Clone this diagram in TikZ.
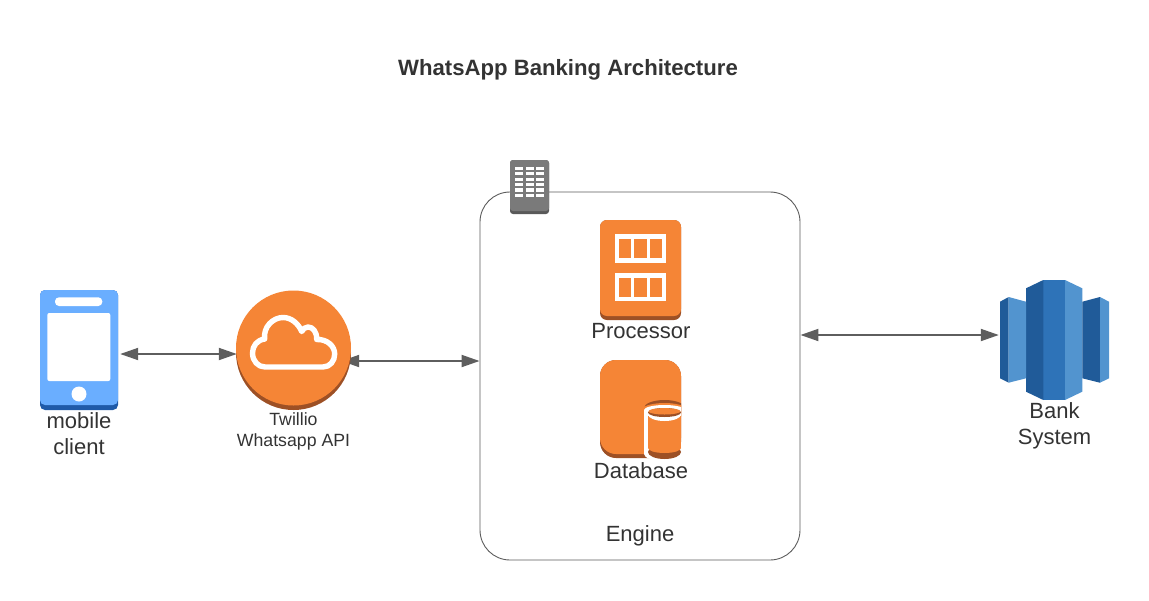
\documentclass[tikz,border=0pt]{standalone}
\usepackage{fontspec}
\setmainfont{Liberation Sans}
\usetikzlibrary{arrows.meta,backgrounds}

\definecolor{awsorange}{HTML}{F58536}
\definecolor{awsbrown}{HTML}{9D5025}
\definecolor{phoneblue}{HTML}{6AAEFF}
\definecolor{phonedark}{HTML}{1F5AA8}
\definecolor{bankmid}{HTML}{2E73B8}
\definecolor{bankdark}{HTML}{205B99}
\definecolor{banklight}{HTML}{5294CF}
\definecolor{txtgrey}{HTML}{333333}
\definecolor{arrowgrey}{HTML}{5E5E5E}

\tikzset{
  label22/.style={text=txtgrey, align=center, font=\fontsize{22}{26}\selectfont},
  label18/.style={text=txtgrey, align=center, font=\fontsize{17.7}{21}\selectfont},
  biarrow/.style={draw=arrowgrey, line width=1.9pt, {Triangle[length=18pt,width=12pt]}-{Triangle[length=18pt,width=12pt]}},
  box/.style={inner sep=0pt, rounded corners=#1},
}

\begin{document}
\begin{tikzpicture}[x=1pt,y=-1pt]
\useasboundingbox (0,0) rectangle (1149,600);

\node[text=txtgrey, font=\fontsize{22.15}{27}\selectfont\bfseries] (title) at (568,70) {WhatsApp Banking Architecture};

\node[draw=txtgrey!80, line width=0.9pt, rounded corners=30pt, minimum width=320pt, minimum height=368pt] (engine) at (640,376) {};
\node[label22] (enginelabel) at (640,536) {Engine};

% building
\node[box=3pt, fill=black!65, minimum width=39pt, minimum height=54pt] (building) at (529.5,187) {};
\fill[black!52, rounded corners=3pt] (510,160) rectangle (549,211);
\foreach \x in {515,525.6,536}
  \foreach \y in {166.7,172.1,177.5,182.9,188.3,193.7}
    \fill[white] (\x,\y) rectangle +(8.3,3.3);

% phone
\node[box=5pt, fill=phonedark, minimum width=78pt, minimum height=120pt] (mobile) at (79,350) {};
\fill[phoneblue, rounded corners=5pt] (40,290) rectangle (118,405);
\fill[white, rounded corners=2pt] (47.3,313) rectangle (110.3,381);
\fill[white, rounded corners=4pt] (55,297.3) rectangle (102.3,306);
\fill[white] (79,394) circle (7.5);
\node[label22] (mobilelabel) at (79,433.5) {mobile\\client};

% twilio
\fill[awsbrown] (293.5,352.5) circle (57.5);
\node[circle, fill=awsorange, inner sep=0pt, minimum size=115pt] (twilio) at (293.5,348) {};
\draw[white, line width=5.4pt, line join=round] (265,367) -- (323,367)
  .. controls (330,367) and (334.7,361) .. (334.7,354)
  .. controls (334.7,346) and (327,339) .. (316.7,339.5)
  .. controls (317,332) and (313,327) .. (308,327)
  .. controls (305,327) and (303,329) .. (301.7,331.5)
  .. controls (298,323) and (291,317.5) .. (283,317.5)
  .. controls (273,317.5) and (263,327) .. (264.7,339)
  .. controls (257,340) and (252.5,346) .. (252.5,353)
  .. controls (252.5,361) and (258,367) .. (265,367) -- cycle;
\node[label18] (twiliolabel) at (293.5,431.5) {Twillio\\Whatsapp API};

% processor
\node[box=7pt, fill=awsbrown, minimum width=81pt, minimum height=100pt] (processor) at (640.5,270) {};
\fill[awsorange, rounded corners=7pt] (600,220) rectangle (681,316);
\foreach \y in {234.3,272.7} {
  \fill[white] (615,\y) rectangle +(51,28.4);
  \foreach \x in {619,634.4,650}
    \fill[awsorange] (\x,\y+4.8) rectangle +(12.3,19);
}
\node[label22] (processorlabel) at (641,331) {Processor};

% database
\node[box=16pt, fill=awsbrown, minimum width=81pt, minimum height=98pt] (database) at (640.5,409) {};
\fill[awsorange, rounded corners=16pt] (600,360) rectangle (681,454);
\begin{scope}
  \clip (644,395) rectangle (681,462);
  \fill[awsbrown] (664.5,408) ellipse (20.5 and 8);
  \fill[awsorange] (664.5,411) ellipse (24 and 8);
  \fill[white] (664.5,410) ellipse (20.5 and 5);
  \fill[white] (644,410) rectangle (681,454);
  \fill[white] (664.5,454) ellipse (20.5 and 7);
\end{scope}
\fill[awsbrown] (664.5,452) ellipse (16.5 and 7);
\fill[awsorange] (648,416) rectangle (681,448);
\fill[awsorange] (664.5,448) ellipse (16.5 and 5);
\fill[white] (664.5,414.5) ellipse (16.5 and 6.5);
\fill[awsbrown] (664.5,412.5) ellipse (16.5 and 4.5);
\fill[awsorange] (664.5,411.3) ellipse (16 and 3.2);
\node[label22] (databaselabel) at (641,471) {Database};

% bank
\node[inner sep=0pt, minimum width=109pt, minimum height=120pt] (bank) at (1054.5,340) {};
\fill[bankmid] (1043.3,280) rectangle (1065,400);
\fill[bankdark] (1026,288.3) -- (1043.3,280) -- (1043.3,400) -- (1026,391.7) -- cycle;
\fill[banklight] (1065,280) -- (1082.3,288.3) -- (1082.3,391.7) -- (1065,400) -- cycle;
\fill[bankdark] (1000,301.7) -- (1008.7,297) -- (1008.7,382.7) -- (1000,378.3) -- cycle;
\fill[banklight] (1008.7,297) -- (1026,301.7) -- (1026,378.3) -- (1008.7,382.7) -- cycle;
\fill[bankdark] (1082.3,301.7) -- (1100,297) -- (1100,382.7) -- (1082.3,378.3) -- cycle;
\fill[banklight] (1100,297) -- (1109,301.7) -- (1109,378.3) -- (1100,382.7) -- cycle;
\node[label22] (banklabel) at (1054.5,425.5) {Bank\\System};

\begin{scope}[on background layer]
\draw[biarrow, shorten <=2pt, shorten >=-1pt] ([yshift=-4pt]mobile.east) -- ([yshift=-6pt]twilio.west);
\draw[biarrow, shorten <=-10pt] ([yshift=-13pt]twilio.east) -- ([yshift=15pt]engine.west);
\draw[biarrow, shorten >=1pt] ([yshift=41pt]engine.east) -- ([yshift=5pt]bank.west);
\end{scope}
\end{tikzpicture}
\end{document}
